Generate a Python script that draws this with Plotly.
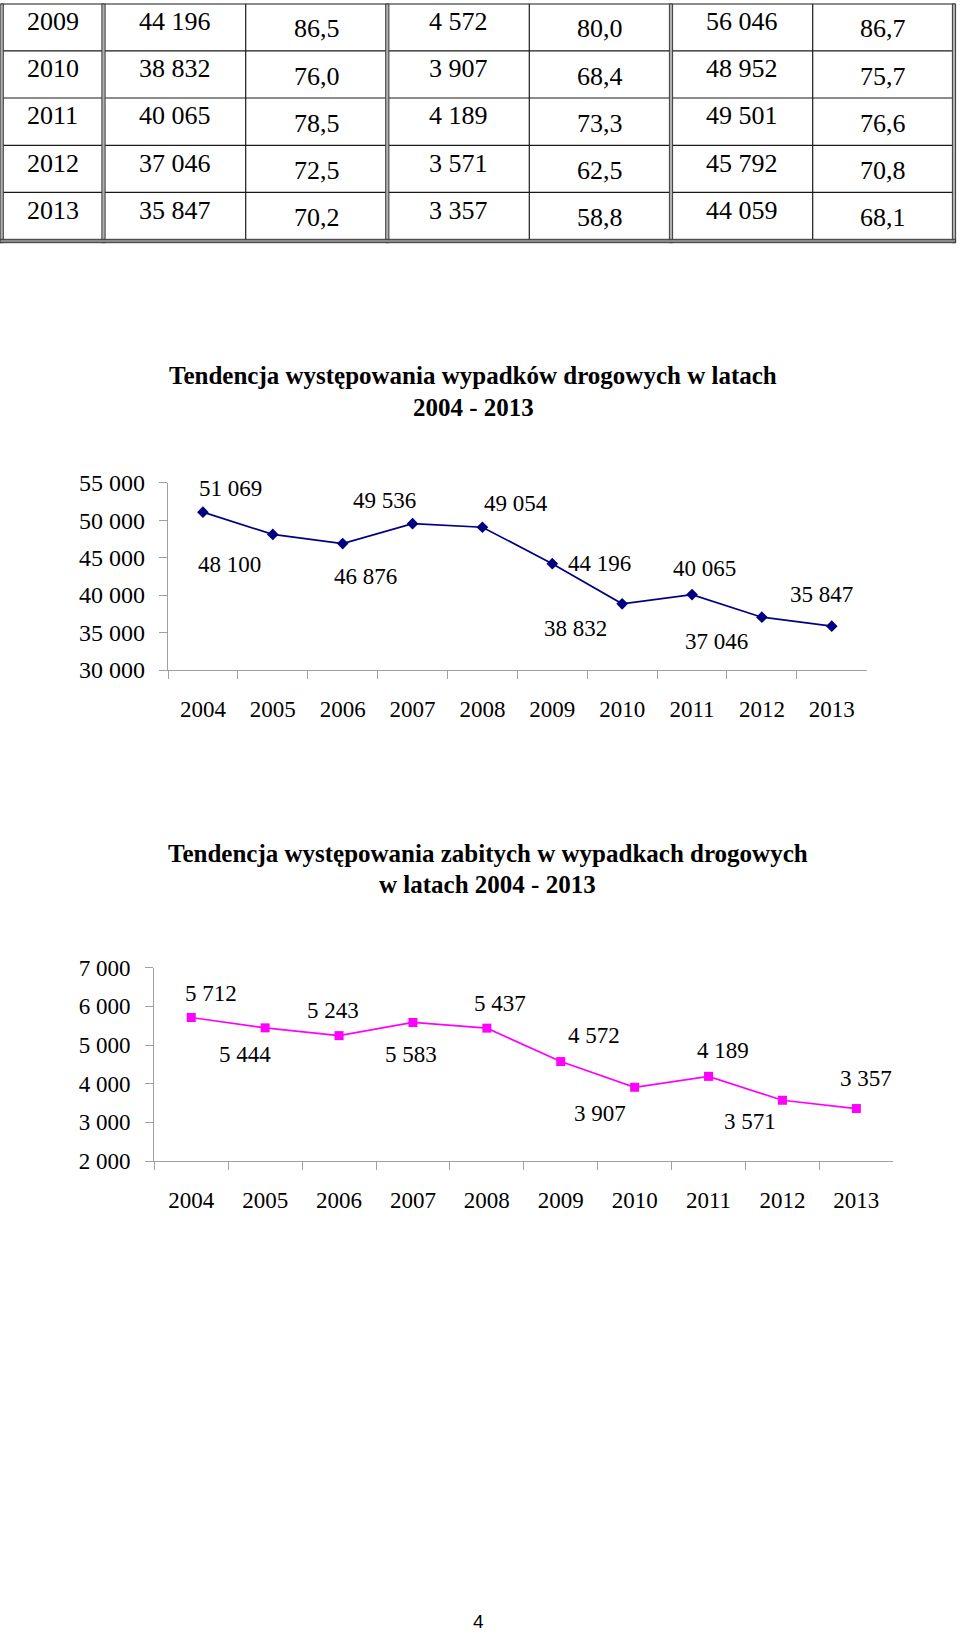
import plotly.graph_objects as go

# ---------------- data ----------------
years = ["2004", "2005", "2006", "2007", "2008", "2009", "2010", "2011", "2012", "2013"]
accidents = [51069, 48100, 46876, 49536, 49054, 44196, 38832, 40065, 37046, 35847]
killed = [5712, 5444, 5243, 5583, 5437, 4572, 3907, 4189, 3571, 3357]

acc_ticks = [30000, 35000, 40000, 45000, 50000, 55000]
acc_ticktext = ["30 000", "35 000", "40 000", "45 000", "50 000", "55 000"]
kil_ticks = [2000, 3000, 4000, 5000, 6000, 7000]
kil_ticktext = ["2 000", "3 000", "4 000", "5 000", "6 000", "7 000"]

title1 = ["Tendencja występowania wypadków drogowych w latach", "2004 - 2013"]
title2 = ["Tendencja występowania zabitych w wypadkach drogowych", "w latach 2004 - 2013"]

# table fragment (rows 2009-2013)
tbl_years = ["2009", "2010", "2011", "2012", "2013"]
tbl_accidents = ["44 196", "38 832", "40 065", "37 046", "35 847"]
tbl_acc_idx = ["86,5", "76,0", "78,5", "72,5", "70,2"]
tbl_killed = ["4 572", "3 907", "4 189", "3 571", "3 357"]
tbl_kil_idx = ["80,0", "68,4", "73,3", "62,5", "58,8"]
tbl_injured = ["56 046", "48 952", "49 501", "45 792", "44 059"]
tbl_inj_idx = ["86,7", "75,7", "76,6", "70,8", "68,1"]

# label offsets (pixels) for data labels
acc_label_dx = [28, -43, 23, -28, 34, 47, -47, 12, -45, -10]
acc_label_dy = [-24, 30, 33, -23, -24, 0, 25, -26, 24, -32]
kil_label_dx = [20, -20, -6, -2, 13, 33, -35, 14, -32, 10]
kil_label_dy = [-24, 27, -25, 32, -25, -26, 26, -26, 21, -30]

W, H = 960, 1634
SERIF = "Liberation Serif, Times New Roman, serif"
AX = "#a0a0a0"


def px(x):
    return x / W


def py(y):
    return 1 - y / H


fig = go.Figure()

fig.add_trace(go.Scatter(
    x=years, y=accidents, mode="lines+markers", xaxis="x", yaxis="y",
    line=dict(color="#000080", width=1.7),
    marker=dict(symbol="diamond", size=9, color="#000080"),
    cliponaxis=False, showlegend=False, hoverinfo="x+y"))

fig.add_trace(go.Scatter(
    x=years, y=killed, mode="lines+markers", xaxis="x2", yaxis="y2",
    line=dict(color="#ff00ff", width=1.7),
    marker=dict(symbol="square", size=9, color="#ff00ff"),
    cliponaxis=False, showlegend=False, hoverinfo="x+y"))

annotations = []
shapes = []

# data labels (category axes: x given as category index)
for i, v in enumerate(accidents):
    annotations.append(dict(
        x=i, y=v, xref="x", yref="y", text=f"{v:,}".replace(",", " "),
        showarrow=False, xshift=acc_label_dx[i], yshift=-acc_label_dy[i],
        xanchor="center", yanchor="middle",
        font=dict(family=SERIF, size=23, color="black")))
for i, v in enumerate(killed):
    annotations.append(dict(
        x=i, y=v, xref="x2", yref="y2", text=f"{v:,}".replace(",", " "),
        showarrow=False, xshift=kil_label_dx[i], yshift=-kil_label_dy[i],
        xanchor="center", yanchor="middle",
        font=dict(family=SERIF, size=23, color="black")))

# titles
for txt, (cx, cy) in zip(title1, [(473, 375), (473, 407)]):
    annotations.append(dict(x=px(cx), y=py(cy), xref="paper", yref="paper",
                            text=f"<b>{txt}</b>", showarrow=False,
                            xanchor="center", yanchor="middle",
                            font=dict(family=SERIF, size=25, color="black")))
for txt, (cx, cy) in zip(title2, [(488, 853), (487, 885)]):
    annotations.append(dict(x=px(cx), y=py(cy), xref="paper", yref="paper",
                            text=f"<b>{txt}</b>", showarrow=False,
                            xanchor="center", yanchor="middle",
                            font=dict(family=SERIF, size=25, color="black")))

# ---------------- table ----------------
col_edges = [1.7, 103.5, 245.7, 387.3, 529.3, 671, 812.7, 954]
row_top = 4
row_h = 47.2
columns = [tbl_years, tbl_accidents, tbl_acc_idx, tbl_killed, tbl_kil_idx, tbl_injured, tbl_inj_idx]
for c, col in enumerate(columns):
    cx = (col_edges[c] + col_edges[c + 1]) / 2
    for r, txt in enumerate(col):
        off = 17.5 if c in (0, 1, 3, 5) else 25
        cy = row_top + r * row_h + off
        annotations.append(dict(x=px(cx), y=py(cy), xref="paper", yref="paper",
                                text=txt, showarrow=False, xanchor="center", yanchor="middle",
                                font=dict(family=SERIF, size=26, color="black")))

# horizontal thin lines
for yline in [4, 50.8, 98, 145.3, 192.3]:
    shapes.append(dict(type="line", xref="paper", yref="paper",
                       x0=px(1), x1=px(955.5), y0=py(yline), y1=py(yline),
                       line=dict(color="#1a1a1a", width=1.2)))
# single vertical lines
for xline in [245.7, 529.3, 812.7]:
    shapes.append(dict(type="line", xref="paper", yref="paper",
                       x0=px(xline), x1=px(xline), y0=py(4), y1=py(240),
                       line=dict(color="#1a1a1a", width=1.2)))
# double vertical lines
for xline in [1.7, 103.5, 387.3, 671, 954]:
    shapes.append(dict(type="rect", xref="paper", yref="paper",
                       x0=px(xline - 1.6), x1=px(xline + 1.6), y0=py(4), y1=py(242.7),
                       fillcolor="#b0b0b0", line=dict(color="#3a3a3a", width=1)))
# bottom double line
shapes.append(dict(type="rect", xref="paper", yref="paper",
                   x0=px(0.1), x1=px(955.6), y0=py(239.3), y1=py(242.7),
                   fillcolor="#8a8a8a", line=dict(color="#3a3a3a", width=1)))

# page number (box kept inside the paper)
annotations.append(dict(x=px(478), y=0, xref="paper", yref="paper", text="4",
                        showarrow=False, xanchor="center", yanchor="bottom", yshift=0,
                        font=dict(family="Liberation Sans, Arial, sans-serif", size=19, color="black")))

axis_common = dict(showgrid=False, zeroline=False, showline=True, linecolor=AX, linewidth=1.2,
                   ticks="outside", ticklen=8, tickcolor=AX, tickwidth=1.2, fixedrange=True,
                   automargin=False)
xfont = dict(family=SERIF, size=23, color="black")

fig.update_layout(
    template="none",
    width=W, height=H, autosize=False,
    margin=dict(l=0, r=0, t=0, b=0, pad=0),
    paper_bgcolor="white", plot_bgcolor="white",
    showlegend=False,
    xaxis=dict(domain=[px(168), px(866.7)], anchor="y", type="category",
               range=[-0.5, 9.5], tickson="boundaries", ticklabelstandoff=18,
               tickfont=xfont, **axis_common),
    yaxis=dict(domain=[py(670), py(482.7)], anchor="x", range=[30000, 55000],
               tickvals=acc_ticks, ticktext=acc_ticktext, ticklabelstandoff=9,
               tickfont=dict(family=SERIF, size=24, color="black"), **axis_common),
    xaxis2=dict(domain=[px(154.3), px(893.3)], anchor="y2", type="category",
                range=[-0.5, 9.5], tickson="boundaries", ticklabelstandoff=18,
                tickfont=xfont, **axis_common),
    yaxis2=dict(domain=[py(1161), py(967.7)], anchor="x2", range=[2000, 7000],
                tickvals=kil_ticks, ticktext=kil_ticktext, ticklabelstandoff=10,
                tickfont=xfont, **axis_common),
    annotations=annotations,
    shapes=shapes,
)

fig.write_html(
    "out.html",
    config={"displayModeBar": False},
    post_script="document.body.style.margin='0';document.body.style.padding='0';"
                "document.documentElement.style.overflow='hidden';",
)
